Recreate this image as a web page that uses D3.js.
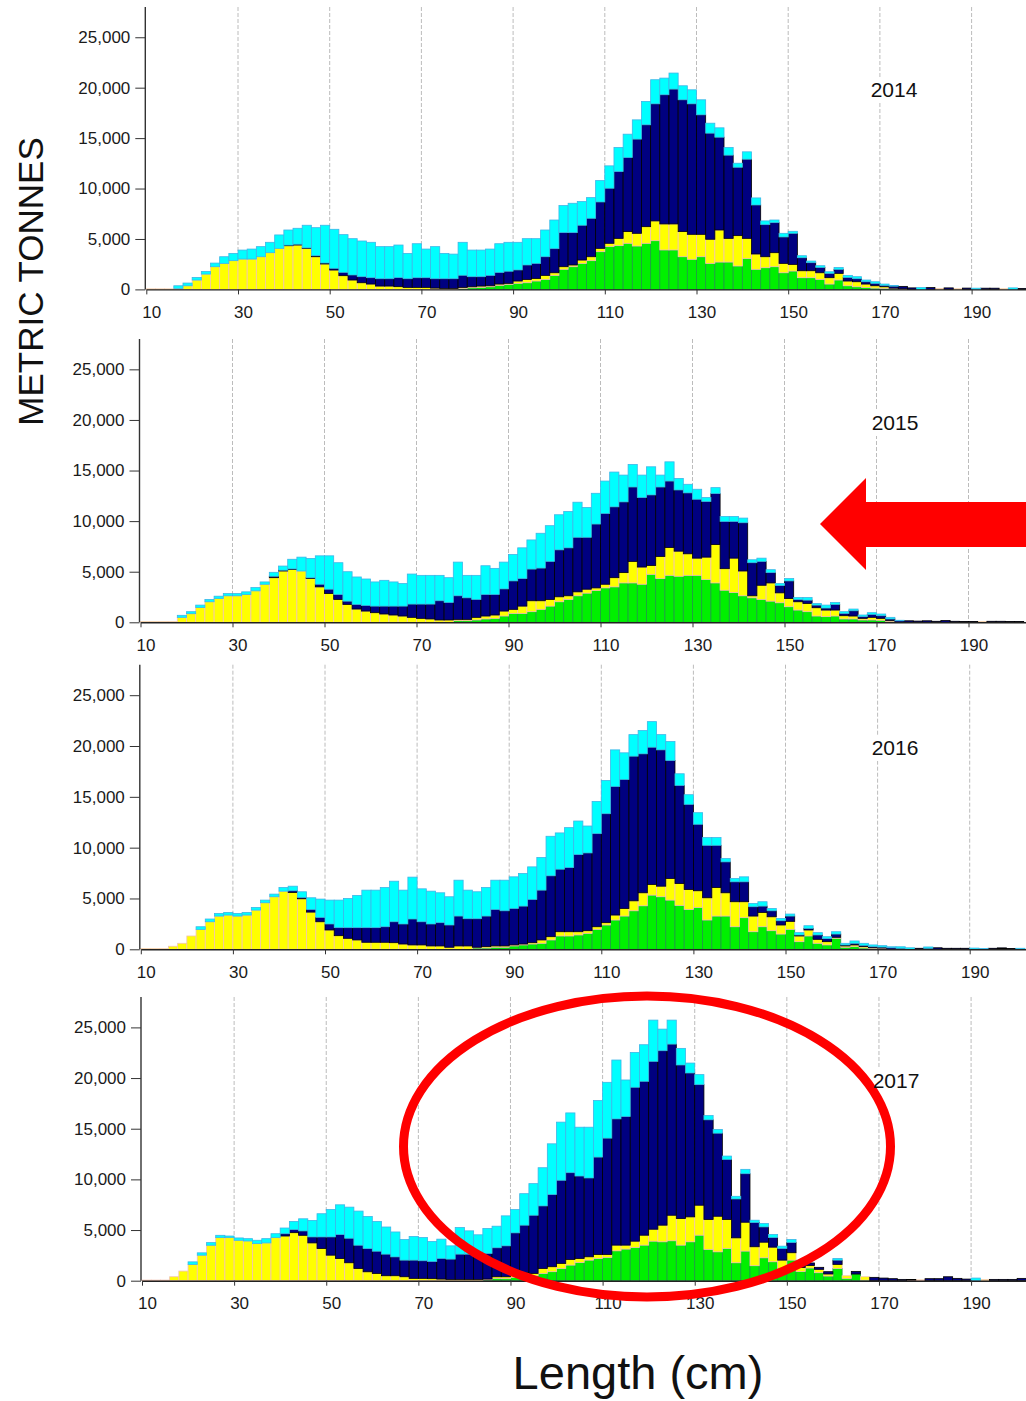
<!DOCTYPE html>
<html>
<head>
<meta charset="utf-8">
<script src="https://cdn.jsdelivr.net/npm/d3@7"></script>
<style>
  body { margin: 0; background: #fff; }
  svg { display: block; font-family: "Liberation Sans", Arial, sans-serif; }
</style>
</head>
<body>
<svg id="chart" width="1026" height="1401"></svg>
<script>
// Length bins (lower edge, cm), 2 cm wide
const lengthBins = d3.range(10, 201, 2);
const yearLabels = ["2014", "2015", "2016", "2017"];
const yTickValues = [0, 5000, 10000, 15000, 20000, 25000];
const xTickValues = [10, 30, 50, 70, 90, 110, 130, 150, 170, 190];
const gridValues = [30, 50, 70, 90, 110, 130, 150, 170, 190];
const seriesKeys = ["green", "yellow", "navy", "cyan"];

// ---- 2014 (tonnes per 2 cm bin, bins 10..200) ----
const green2014 = [
  0,0,0,0,0,0,0,0,0,0,
  0,0,0,0,0,0,0,0,0,0,
  0,0,0,0,0,0,0,0,0,0,
  0,0,0,0,100,160,200,260,400,500,
  600,660,830,990,1390,1990,2250,2580,2850,3740,
  4240,4340,4570,4300,4570,4830,3910,3910,3240,2980,
  3240,2580,2710,2710,2320,3050,1990,2150,2250,1650,
  1820,1160,1160,990,530,930,360,260,200,130,
  100,40,0,0,0,0,0,0,0,0,
  0,0,0,0,0,0];
const yellow2014 = [
  50,50,50,100,360,930,1520,2250,2580,2850,
  3010,3010,3240,3640,4070,4330,4400,4070,3240,2520,
  1920,1360,930,660,530,330,330,270,200,200,
  200,130,100,100,100,100,130,100,130,100,
  230,330,260,400,260,260,170,330,390,330,
  330,720,1160,1260,1650,1960,2580,2580,2490,2480,
  2220,2390,3180,2350,3010,2010,1520,1090,1390,930,
  660,690,690,660,630,660,470,500,330,230,
  160,80,50,0,0,0,80,0,60,0,
  0,0,0,60,0,0];
const navy2014 = [
  0,0,0,0,0,0,0,0,0,0,
  0,0,0,0,0,60,80,50,100,100,
  170,330,500,600,630,730,730,900,860,960,
  960,930,960,960,1200,1000,930,1030,1150,1200,
  1100,1430,1490,1850,2390,3380,3210,3450,3810,4600,
  5460,6620,7340,9340,10100,11610,12810,13370,13070,12940,
  11850,10520,9200,8250,6780,7850,4860,3180,2980,2620,
  3080,1290,800,530,430,400,360,300,230,240,
  140,200,250,150,0,180,0,150,0,130,
  0,120,120,0,0,100];
const cyan2014 = [
  0,0,0,260,270,260,260,360,660,720,
  890,990,1000,1030,1330,1500,1580,2240,2780,3740,
  3870,3740,3600,3540,3510,3180,3180,3230,2510,3370,
  2840,3180,2510,2440,3270,2640,2640,2610,2850,2870,
  2740,2610,2450,2650,2840,2680,2910,2350,2050,2120,
  2220,2390,2320,1910,2320,2390,1650,1590,1390,1390,
  1490,990,930,760,400,730,700,370,260,360,
  200,200,160,170,160,190,200,200,170,160,
  130,60,0,0,180,0,0,0,0,0,
  120,0,0,0,150,0];

// ---- 2015 ----
const green2015 = [
  0,0,0,0,0,0,0,0,0,0,
  0,0,0,0,0,0,0,0,0,0,
  0,0,0,0,0,0,0,0,0,0,
  0,0,0,0,160,160,230,330,390,620,
  880,880,1050,1280,1600,2030,2260,2620,2880,3140,
  3400,3500,3890,3890,3760,4740,4320,4640,4550,4640,
  4640,4220,3890,3170,2940,2620,2420,2260,2090,1930,
  1540,1210,1050,620,560,620,330,330,230,230,
  200,60,0,0,0,0,0,0,0,0,
  0,0,0,0,0,0];
const yellow2015 = [
  60,60,60,60,490,850,1470,2030,2350,2620,
  2620,2750,3110,3760,4410,5070,5230,5070,4320,3500,
  2840,2260,1770,1310,1110,950,820,720,620,490,
  390,330,230,230,130,130,260,290,330,490,
  400,720,1080,850,660,490,360,390,390,260,
  360,910,1020,2130,1700,880,2190,2750,2480,2130,
  1700,2220,3790,2130,3400,2450,200,1400,1800,980,
  810,820,810,820,650,590,320,290,160,260,
  190,100,0,0,0,0,0,0,0,0,
  0,60,0,0,0,0];
const navy2015 = [
  0,0,0,0,0,0,0,0,0,0,
  0,0,0,0,140,80,50,0,80,260,
  430,490,320,460,560,650,780,880,980,1310,
  1410,1470,1900,1730,2330,2130,1770,2130,2030,2190,
  2810,2720,3130,3230,3760,4640,4740,5390,5130,6310,
  7000,7000,6990,7350,6870,6970,6860,6570,6050,6020,
  5820,5500,5040,4670,3630,4770,3270,2360,1020,720,
  1740,230,330,260,200,560,230,520,170,290,
  260,170,150,150,120,150,100,180,100,80,
  80,0,100,100,80,80];
const cyan2015 = [
  0,0,0,0,200,200,230,230,230,220,
  220,260,320,230,390,410,950,1370,1910,2810,
  3300,3140,2910,2710,2610,2390,2550,2390,2230,2970,
  2840,2840,2510,2450,3330,2220,2380,2840,2580,2650,
  2610,3040,2880,3440,3530,3470,3590,3470,2950,3040,
  3200,3440,2650,2230,2220,2780,1180,1900,1140,850,
  990,390,590,490,490,460,290,320,290,200,
  230,190,260,160,290,190,170,170,160,170,
  170,160,50,0,0,0,0,0,0,0,
  0,0,0,0,0,0];

// ---- 2016 ----
const green2016 = [
  0,0,0,0,0,0,0,0,0,0,
  0,0,0,0,0,0,0,0,0,0,
  0,0,0,0,0,0,0,0,0,0,
  0,0,0,0,0,0,130,130,200,200,
  330,430,520,590,920,1310,1310,1410,1570,1960,
  2390,2880,3270,3790,4280,5330,5170,4840,4320,3920,
  4120,2880,3270,3270,2220,3110,1730,2220,1830,1500,
  1960,750,1310,590,430,1080,200,260,130,80,
  60,0,0,0,0,0,0,0,0,0,
  0,0,0,60,0,0];
const yellow2016 = [
  60,60,60,300,590,1310,1960,2710,3270,3370,
  3270,3370,3860,4580,5170,5720,5590,4970,3660,2710,
  1900,1340,1080,920,690,690,690,650,520,430,
  430,330,330,200,330,330,70,130,130,130,
  100,90,130,330,320,420,420,320,260,260,
  230,490,750,980,1280,1050,1040,2130,2150,1970,
  1640,2190,2810,2290,2460,1570,1540,1410,1370,890,
  790,560,590,390,320,100,130,170,130,70,
  60,0,0,0,0,0,0,0,0,0,
  0,0,0,0,0,0];
const navy2016 = [
  0,0,0,0,0,0,0,0,0,0,
  0,0,0,0,0,0,170,130,260,430,
  590,790,1050,1210,1440,1440,1530,2060,1970,2550,
  2280,2160,2290,2190,2940,2680,2810,3010,3590,3460,
  3590,3730,4260,4900,5990,6150,6310,7590,7650,9160,
  10720,12650,12690,14230,13670,13500,13410,11600,9650,8370,
  6540,5160,4150,3040,1960,1960,920,620,590,420,
  520,100,160,430,300,320,100,160,130,110,
  100,150,100,0,100,100,150,100,100,100,
  0,0,100,80,80,0];
const cyan2016 = [
  0,0,0,0,0,0,260,270,260,260,
  260,260,260,260,260,360,450,560,1150,1800,
  2350,2710,2870,3170,3690,3690,3860,3990,3330,4120,
  3240,3230,2940,2780,3530,2810,2650,2810,2880,3010,
  3110,3210,3200,3210,3890,3570,3930,3300,2650,3170,
  3270,3600,2620,2120,2290,2520,1500,1870,1150,950,
  1140,760,760,330,330,490,320,430,230,230,
  200,230,260,230,190,230,160,230,200,170,
  140,100,150,150,0,130,0,0,0,0,
  120,80,0,0,0,100];

// ---- 2017 ----
const green2017 = [
  0,0,0,0,0,0,0,0,0,0,
  0,0,0,0,0,0,0,0,0,0,
  0,0,0,0,0,0,0,0,0,0,
  0,0,0,0,0,0,0,80,230,200,
  330,390,490,720,890,1210,1540,1800,2030,2200,
  2300,2950,3120,3280,3510,3900,3840,3940,3510,3840,
  4490,3080,2850,3180,1770,2920,1480,2260,1870,1120,
  2030,900,1250,790,460,1210,230,660,60,0,
  0,0,0,0,0,0,0,0,0,0,
  0,0,0,0,0,0];
const yellow2017 = [
  60,60,60,390,950,1600,2520,3500,4250,4250,
  3990,3920,3660,3730,4250,4410,4740,4480,3730,3170,
  2520,2190,1770,1210,880,720,490,490,390,230,
  230,200,160,130,130,130,130,80,160,190,
  260,400,230,490,490,500,560,400,330,390,
  290,560,390,620,980,1180,1640,2520,2620,2460,
  2960,2960,3510,2860,2460,2850,1870,1540,1440,910,
  730,400,250,330,200,400,260,0,330,0,
  0,0,0,60,80,0,0,0,0,0,
  0,100,0,0,0,0];
const navy2017 = [
  0,0,0,0,0,0,0,0,0,0,
  0,0,0,0,0,230,300,430,590,1150,
  1800,2360,2420,2290,2290,2190,2130,1860,1640,1800,
  1740,1700,2040,2000,2490,2490,2490,2530,2860,3050,
  4130,4690,5740,6170,7120,8200,8560,8130,7780,9610,
  11480,12460,12690,15190,15190,16570,17220,16890,15160,14200,
  11900,9840,8200,5930,3840,4790,2390,1510,950,1150,
  1010,300,250,200,230,420,0,260,0,330,
  260,200,130,60,0,200,200,390,230,160,
  0,0,130,130,130,230];
const cyan2017 = [
  0,0,0,0,0,260,230,260,230,160,
  230,230,330,420,390,560,810,1200,1630,2290,
  2710,2940,3070,3370,3170,2940,2680,2460,2030,2330,
  2290,1970,1900,1310,2630,2300,1910,2460,2130,2960,
  2300,3110,3120,3770,5010,5740,5900,4820,5010,5580,
  5510,5810,3610,3440,3610,4070,2130,2370,1640,980,
  990,420,360,330,260,430,230,330,300,230,
  300,100,0,0,0,170,0,0,0,0,
  0,0,0,0,0,0,0,0,0,0,
  260,0,0,0,0,0];

const seriesByYear = {
  "2014": { green: green2014, yellow: yellow2014, navy: navy2014, cyan: cyan2014 },
  "2015": { green: green2015, yellow: yellow2015, navy: navy2015, cyan: cyan2015 },
  "2016": { green: green2016, yellow: yellow2016, navy: navy2016, cyan: cyan2016 },
  "2017": { green: green2017, yellow: yellow2017, navy: navy2017, cyan: cyan2017 }
};

const fills   = { green: "#00f000", yellow: "#ffff00", navy: "#000080", cyan: "#00ffff" };
const strokes = { green: "#1f9a45", yellow: "#f2c3b2", navy: "#000000", cyan: "#3cb6e8" };

// panel geometry (pixels)
const panelLayout = [
  { x10: 146.3, cm: 4.585, top: 7,     zero: 289.4,  label: [894, 96.5] },
  { x10: 140.5, cm: 4.600, top: 339,   zero: 622.3,  label: [895, 430] },
  { x10: 140.8, cm: 4.605, top: 664.7, zero: 949.3,  label: [895, 755] },
  { x10: 142.0, cm: 4.606, top: 997,   zero: 1280.7, label: [896, 1088] }
];

const svg = d3.select("#chart");
const stack = d3.stack().keys(seriesKeys);
const yearTexts = [];

yearLabels.forEach((year, i) => {
  const L = panelLayout[i];
  const x = d3.scaleLinear().domain([10, 210]).range([L.x10, L.x10 + 200 * L.cm]);
  const y = d3.scaleLinear().domain([0, 28000]).range([L.zero, L.top]);
  const g = svg.append("g");

  // dashed vertical grid
  g.selectAll("line.grid").data(gridValues).join("line")
    .attr("x1", d => x(d)).attr("x2", d => x(d))
    .attr("y1", L.top).attr("y2", L.zero)
    .attr("stroke", "#bcbcbc").attr("stroke-width", 1)
    .attr("stroke-dasharray", "4,2");

  // stacked bars
  const s = seriesByYear[year];
  const rows = lengthBins.map((b, j) => ({
    bin: b, green: s.green[j], yellow: s.yellow[j], navy: s.navy[j], cyan: s.cyan[j]
  }));
  const layers = stack(rows);
  g.selectAll("g.layer").data(layers).join("g")
    .attr("fill", d => fills[d.key])
    .attr("stroke", d => strokes[d.key])
    .attr("stroke-width", 0.8)
    .selectAll("rect")
    .data(d => d.filter(p => p[1] - p[0] > 0))
    .join("rect")
      .attr("x", p => x(p.data.bin))
      .attr("width", p => x(p.data.bin + 2) - x(p.data.bin))
      .attr("y", p => y(p[1]))
      .attr("height", p => y(p[0]) - y(p[1]));

  // y axis
  const yAxis = g.append("g")
    .attr("transform", `translate(${L.x10 - 1},0)`)
    .call(d3.axisLeft(y).tickValues(yTickValues).tickFormat(d3.format(","))
      .tickSize(10).tickSizeOuter(0).tickPadding(5));
  yAxis.select(".domain").remove();
  yAxis.append("line").attr("x1", 0).attr("x2", 0).attr("y1", L.top).attr("y2", L.zero)
    .attr("stroke", "#333").attr("stroke-width", 1.4);
  yAxis.selectAll(".tick line").attr("stroke", "#333");
  yAxis.selectAll("text").attr("font-size", 17).attr("fill", "#1a1a1a")
    .attr("font-family", "Liberation Sans, Arial, sans-serif");

  // x axis
  const xAxis = g.append("g")
    .attr("transform", `translate(0,${L.zero})`)
    .call(d3.axisBottom(x).tickValues(xTickValues).tickSize(5).tickSizeOuter(0));
  xAxis.select(".domain").attr("stroke", "#222").attr("stroke-width", 1.4);
  xAxis.selectAll(".tick line").attr("stroke", "#333");
  xAxis.selectAll("text").attr("font-size", 17).attr("fill", "#1a1a1a")
    .attr("font-family", "Liberation Sans, Arial, sans-serif")
    .attr("x", 5).attr("y", 28.5).attr("dy", 0);

  // white backing behind the year label
  g.append("rect")
    .attr("x", L.label[0] - 26).attr("y", L.label[1] - 19)
    .attr("width", 52).attr("height", 25).attr("fill", "#fff");
  yearTexts.push({ year, pos: L.label });
});

// red arrow pointing at the 2015 distribution
const arrowPts = [[820, 524], [866, 478], [866, 502], [1030, 502], [1030, 547], [866, 547], [866, 570]];
svg.append("path")
  .attr("d", d3.line()(arrowPts) + "Z")
  .attr("fill", "#ff0000");

// red ellipse around the 2017 large-fish mode
svg.append("ellipse")
  .attr("cx", 647).attr("cy", 1146.5).attr("rx", 243.5).attr("ry", 150.5)
  .attr("fill", "none").attr("stroke", "#ff0000").attr("stroke-width", 9);

// year labels
svg.selectAll("text.year").data(yearTexts).join("text")
  .attr("class", "year")
  .attr("x", d => d.pos[0]).attr("y", d => d.pos[1])
  .attr("text-anchor", "middle").attr("font-size", 21).attr("fill", "#111")
  .text(d => d.year);

// axis titles
svg.append("text")
  .attr("transform", "translate(43,281.5) rotate(-90)")
  .attr("text-anchor", "middle").attr("font-size", 35).attr("fill", "#111")
  .text("METRIC TONNES");

svg.append("text")
  .attr("x", 638).attr("y", 1389)
  .attr("text-anchor", "middle").attr("font-size", 47).attr("fill", "#111")
  .text("Length (cm)");
</script>
</body>
</html>
